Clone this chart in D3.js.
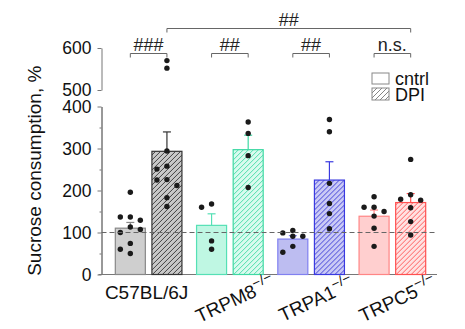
<!DOCTYPE html>
<html>
<head>
<meta charset="utf-8">
<script src="https://cdn.jsdelivr.net/npm/d3@7"></script>
<style>
  body { margin: 0; background: #fff; }
  text { font-family: "Liberation Sans", Arial, sans-serif; }
</style>
</head>
<body>
<script>
// DATA
const groups = ["C57BL/6J", "TRPM8", "TRPA1", "TRPC5"];
const conditions = ["cntrl", "DPI"];

const c57Cntrl = [196, 137, 137, 129, 113, 100, 107, 74, 60, 50];
const c57Dpi = [570, 552, 294, 258, 251, 226, 225, 212, 183, 162];
const trpm8Cntrl = [168, 160, 80, 60];
const trpm8Dpi = [363, 336, 283, 207];
const trpa1Cntrl = [105, 99, 91, 91, 67, 53];
const trpa1Dpi = [369, 340, 217, 169, 145, 109];
const trpc5Cntrl = [185, 160, 160, 150, 139, 110, 67];
const trpc5Dpi = [274, 190, 179, 177, 159, 126, 94];

const pairSignif = ["###", "##", "##", "n.s."];
const topSignif = "##";

const lowTicks = [0, 100, 200, 300, 400];
const lowMinorTicks = [50, 150, 250, 350];
const highTicks = [500, 600];

// COLOURS
const colors = {
    "C57BL/6J": {light: "#cfcfcf", hatchBg: "#c8c8c8", line: "#333333", edge: "#888888", dpiEdge: "#333333"},
    "TRPM8": {light: "#bff7e3", hatchBg: "#d9fbef", line: "#3fd9a4", edge: "#55e0b5", dpiEdge: "#3fd9a4"},
    "TRPA1": {light: "#bdbdf1", hatchBg: "#cacaf5", line: "#3535d6", edge: "#8080f0", dpiEdge: "#3a3ae0"},
    "TRPC5": {light: "#ffcfcf", hatchBg: "#ffe1e1", line: "#ff5050", edge: "#ff8585", dpiEdge: "#ff5050"}
};

const table = [
    {group: "C57BL/6J", cond: "cntrl", values: c57Cntrl},
    {group: "C57BL/6J", cond: "DPI", values: c57Dpi},
    {group: "TRPM8", cond: "cntrl", values: trpm8Cntrl},
    {group: "TRPM8", cond: "DPI", values: trpm8Dpi},
    {group: "TRPA1", cond: "cntrl", values: trpa1Cntrl},
    {group: "TRPA1", cond: "DPI", values: trpa1Dpi},
    {group: "TRPC5", cond: "cntrl", values: trpc5Cntrl},
    {group: "TRPC5", cond: "DPI", values: trpc5Dpi}
];
table.forEach(d => {
    d.mean = d3.mean(d.values);
    d.sem = d3.deviation(d.values) / Math.sqrt(d.values.length);
});

// SETUP
const svg = d3.select("body").append("svg")
    .attr("width", 465)
    .attr("height", 329);

const axisX = 101.5;
const axisRight = 437;

const x0 = d3.scaleBand().domain(groups).range([108, 433])
    .paddingInner(0.18).paddingOuter(0.09);
const x1 = d3.scaleBand().domain(conditions).range([0, x0.bandwidth()])
    .paddingInner(0.18);

const yLow = d3.scaleLinear().domain([0, 400]).range([274.5, 106.5]);
const yHigh = d3.scaleLinear().domain([500, 600]).range([90, 48]);
const yPos = v => v > 450 ? yHigh(v) : yLow(v);

// hatch patterns
const defs = svg.append("defs");
function addHatch(id, bg, line) {
    const p = defs.append("pattern")
        .attr("id", id)
        .attr("patternUnits", "userSpaceOnUse")
        .attr("width", 5).attr("height", 5);
    p.append("rect").attr("width", 5).attr("height", 5).attr("fill", bg);
    p.append("path")
        .attr("d", "M0,5 L5,0 M-1,1 L1,-1 M4,6 L6,4")
        .attr("stroke", line).attr("stroke-width", 0.9);
}
groups.forEach((g, i) => addHatch("hatch" + i, colors[g].hatchBg, colors[g].line));
addHatch("hatchLegend", "#ffffff", "#777777");

// AXES
const gLow = svg.append("g").attr("transform", `translate(${axisX},0)`)
    .call(d3.axisLeft(yLow).tickValues(lowTicks).tickSize(4).tickSizeOuter(0).tickPadding(6));
const gMinor = svg.append("g").attr("transform", `translate(${axisX},0)`)
    .call(d3.axisLeft(yLow).tickValues(lowMinorTicks).tickSize(2).tickSizeOuter(0).tickFormat(""));
const gHigh = svg.append("g").attr("transform", `translate(${axisX},0)`)
    .call(d3.axisLeft(yHigh).tickValues(highTicks).tickSize(4).tickSizeOuter(0).tickPadding(6));

[gLow, gMinor, gHigh].forEach(g => {
    g.select(".domain").attr("stroke", "#777");
    g.selectAll(".tick line").attr("stroke", "#777");
    g.selectAll(".tick text")
        .attr("font-size", 17.5)
        .attr("fill", "#111")
        .attr("font-family", "'Liberation Sans', Arial, sans-serif");
});

// baseline
svg.append("line")
    .attr("x1", axisX - 3).attr("x2", axisRight)
    .attr("y1", yLow(0)).attr("y2", yLow(0))
    .attr("stroke", "#777");

// y label
svg.append("text")
    .attr("transform", `translate(41,${(yLow(0) + 67) / 2}) rotate(-90)`)
    .attr("text-anchor", "middle")
    .attr("font-size", 19)
    .attr("fill", "#111")
    .text("Sucrose consumption, %");

// BARS
const bar = svg.selectAll(".bar")
    .data(table)
    .enter().append("g")
    .attr("class", "bar")
    .attr("transform", d => `translate(${x0(d.group) + x1(d.cond)},0)`);

bar.append("rect")
    .attr("x", 0)
    .attr("y", d => yLow(d.mean))
    .attr("width", x1.bandwidth())
    .attr("height", d => yLow(0) - yLow(d.mean))
    .attr("fill", d => d.cond === "cntrl" ? colors[d.group].light : `url(#hatch${groups.indexOf(d.group)})`)
    .attr("stroke", d => d.cond === "cntrl" ? colors[d.group].edge : colors[d.group].dpiEdge)
    .attr("stroke-width", 1.2);

// error bars (upper only)
const bw = x1.bandwidth();
bar.append("line")
    .attr("x1", bw / 2).attr("x2", bw / 2)
    .attr("y1", d => yLow(d.mean))
    .attr("y2", d => yLow(d.mean + d.sem))
    .attr("stroke", d => d.cond === "cntrl" ? colors[d.group].edge : colors[d.group].dpiEdge)
    .attr("stroke-width", 1.2);
bar.append("line")
    .attr("x1", bw / 2 - 4).attr("x2", bw / 2 + 4)
    .attr("y1", d => yLow(d.mean + d.sem))
    .attr("y2", d => yLow(d.mean + d.sem))
    .attr("stroke", d => d.cond === "cntrl" ? colors[d.group].edge : colors[d.group].dpiEdge)
    .attr("stroke-width", 1.2);

// reference line at 100
svg.append("line")
    .attr("x1", axisX).attr("x2", axisRight)
    .attr("y1", yLow(100)).attr("y2", yLow(100))
    .attr("stroke", "#666")
    .attr("stroke-width", 1)
    .attr("stroke-dasharray", "5,3");

// DOTS - simple beeswarm so points don't overlap
function swarm(values) {
    const offsets = [0, -10, 10, -6, 6];
    const placed = [];
    for (const v of values) {
        const y = yPos(v);
        let dx = 0;
        for (const o of offsets) {
            if (placed.every(p => Math.hypot(p.dx - o, p.y - y) >= 6.5)) { dx = o; break; }
        }
        placed.push({dx: dx, y: y});
    }
    return placed;
}

bar.each(function(d) {
    d3.select(this).selectAll(".dot")
        .data(swarm(d.values))
        .enter().append("circle")
        .attr("class", "dot")
        .attr("cx", p => bw / 2 + p.dx)
        .attr("cy", p => p.y)
        .attr("r", 2.7)
        .attr("fill", "#1a1a1a");
});

// SIGNIFICANCE BRACKETS
const centre = (g, c) => x0(g) + x1(c) + bw / 2;
function bracket(xa, xb, y, label) {
    svg.append("path")
        .attr("d", `M${xa},${y + 4}V${y}H${xb}V${y + 4}`)
        .attr("fill", "none")
        .attr("stroke", "#666")
        .attr("stroke-width", 1);
    svg.append("text")
        .attr("x", (xa + xb) / 2)
        .attr("y", y - 3)
        .attr("text-anchor", "middle")
        .attr("font-size", 18)
        .attr("fill", "#222")
        .text(label);
}
groups.forEach((g, i) => bracket(centre(g, "cntrl"), centre(g, "DPI"), 53.5, pairSignif[i]));
bracket(centre(groups[0], "DPI"), centre(groups[3], "DPI"), 28.5, topSignif);

// LEGEND
const legend = svg.append("g").attr("transform", "translate(372,73)");
legend.append("rect").attr("x", 0).attr("y", 0).attr("width", 17).attr("height", 11)
    .attr("fill", "#fff").attr("stroke", "#888");
legend.append("rect").attr("x", 0).attr("y", 15).attr("width", 17).attr("height", 12)
    .attr("fill", "url(#hatchLegend)").attr("stroke", "#888");
legend.append("text").attr("x", 23).attr("y", 11.5).attr("font-size", 18).attr("fill", "#111").text("cntrl");
legend.append("text").attr("x", 23).attr("y", 27.5).attr("font-size", 18).attr("fill", "#111").text("DPI");

// X LABELS
groups.forEach((g, i) => {
    const cx = x0(g) + x0.bandwidth() / 2;
    if (i === 0) {
        svg.append("text")
            .attr("x", cx - 2).attr("y", 299)
            .attr("text-anchor", "middle")
            .attr("font-size", 19)
            .attr("fill", "#111")
            .text(g);
    } else {
        const t = svg.append("text")
            .attr("transform", `translate(${cx + 8},305) rotate(-25)`)
            .attr("text-anchor", "middle")
            .attr("font-size", 19)
            .attr("fill", "#111");
        t.append("tspan").text(g);
        t.append("tspan").attr("dy", -8).attr("font-size", 14).text("\u2212/\u2212");
    }
});
</script>
</body>
</html>
